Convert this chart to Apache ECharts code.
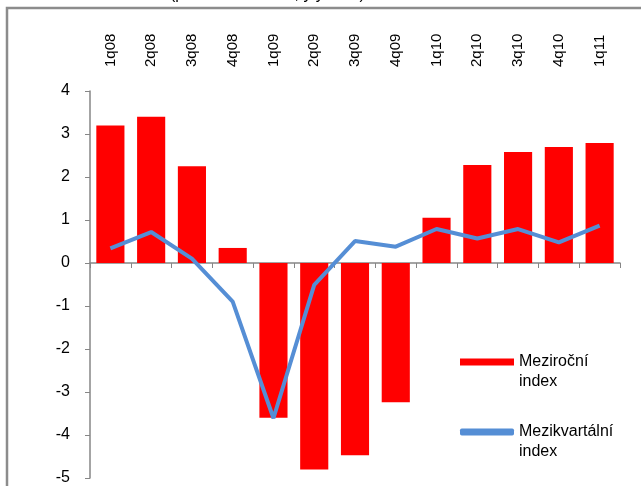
<!DOCTYPE html>
<html lang="cs">
<head>
  <meta charset="UTF-8">
  <title>Meziroční a mezikvartální index</title>
  <script src="https://cdn.jsdelivr.net/npm/echarts@6/dist/echarts.min.js"></script>
  <style>
    html, body { margin: 0; padding: 0; background: #fff; }
    #chart { width: 641px; height: 486px; }
  </style>
</head>
<body>
  <div id="chart"></div>
  <script>
    // data
    const quarters = ['1q08', '2q08', '3q08', '4q08', '1q09', '2q09', '3q09', '4q09', '1q10', '2q10', '3q10', '4q10', '1q11'];
    const yoyIndex = [3.2, 3.4, 2.25, 0.35, -3.6, -4.8, -4.47, -3.24, 1.05, 2.28, 2.58, 2.7, 2.79];
    const qoqIndex = [0.34, 0.72, 0.1, -0.9, -3.61, -0.51, 0.51, 0.38, 0.79, 0.57, 0.79, 0.48, 0.87];
    const yTicks = [-5, -4, -3, -2, -1, 0, 1, 2, 3, 4];

    const chart = echarts.init(document.getElementById('chart'));
    const font = '"Liberation Sans", Arial, sans-serif';

    const option = {
      animation: false,
      backgroundColor: '#fff',
      title: {
        text: '(procentní změna, y/y in %)',
        left: 165,
        top: -18,
        textStyle: { fontFamily: font, fontSize: 16, fontWeight: 'normal', color: '#000' }
      },
      graphic: [{
        type: 'polyline',
        shape: { points: [[7, 486], [7, 8], [641, 8]] },
        style: { stroke: '#8c8c8c', lineWidth: 2.5, fill: null }
      }],
      grid: { left: 90, right: 21, top: 91, bottom: 8 },
      legend: {
        orient: 'vertical',
        left: 455,
        top: 327,
        itemWidth: 54,
        itemHeight: 7,
        itemGap: 10,
        data: [
          { name: 'Meziroční index', icon: 'rect' },
          { name: 'Mezikvartální index', icon: 'roundRect' }
        ],
        // leading empty line keeps the icon level with the first text line
        formatter: name => '\n' + name.replace(' ', '\n'),
        textStyle: { fontFamily: font, fontSize: 16, color: '#000', lineHeight: 20 }
      },
      xAxis: [{
        type: 'category',
        data: quarters,
        axisLine: { onZero: true, lineStyle: { color: '#868686', width: 1.5 } },
        axisTick: { show: true, length: 5, lineStyle: { color: '#868686' } },
        axisLabel: { show: false }
      }, {
        type: 'category',
        position: 'top',
        data: quarters,
        axisLine: { show: false },
        axisTick: { show: false },
        axisLabel: { rotate: -90, margin: 24, fontFamily: font, fontSize: 15, color: '#000' }
      }],
      yAxis: {
        type: 'value',
        min: -5,
        max: 4,
        interval: 1,
        axisLine: { show: true, lineStyle: { color: '#868686', width: 1.5 } },
        axisTick: { show: true, length: 5, lineStyle: { color: '#868686' } },
        splitLine: { show: false },
        axisLabel: {
          margin: 20,
          fontFamily: font,
          fontSize: 16,
          color: '#000',
          formatter: v => (yTicks.includes(v) ? String(v) : '')
        }
      },
      series: [{
        name: 'Meziroční index',
        type: 'bar',
        data: yoyIndex,
        barWidth: '69%',
        itemStyle: { color: '#ff0000' }
      }, {
        name: 'Mezikvartální index',
        type: 'line',
        data: qoqIndex,
        symbol: 'none',
        color: '#558ed5',
        lineStyle: { color: '#558ed5', width: 4 }
      }]
    };

    chart.setOption(option);
  </script>
</body>
</html>
